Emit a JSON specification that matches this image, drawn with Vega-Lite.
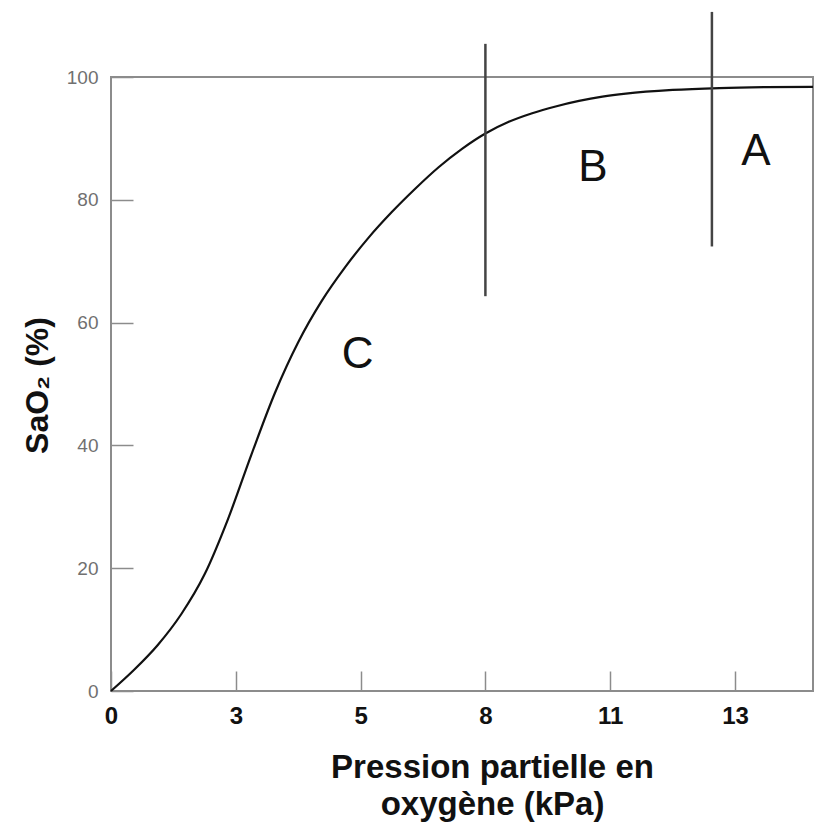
{
  "$schema": "https://vega.github.io/schema/vega-lite/v6.json",
  "width": 702,
  "height": 614,
  "autosize": {"type": "none"},
  "padding": {"left": 111, "top": 77, "right": 8, "bottom": 137},
  "background": "white",
  "config": {
    "font": "Liberation Sans",
    "view": {"stroke": "#8c8c8c", "strokeWidth": 2}
  },
  "datasets": {
    "curve": [
      {"p": 0, "s": 0},
      {"p": 0.5, "s": 3.5},
      {"p": 1.0, "s": 7.5},
      {"p": 1.5, "s": 12.5},
      {"p": 2.0, "s": 19.0},
      {"p": 2.5, "s": 28.0},
      {"p": 3.0, "s": 38.5},
      {"p": 3.5, "s": 48.5},
      {"p": 4.0, "s": 56.8},
      {"p": 4.5, "s": 63.5},
      {"p": 5.0, "s": 69.0},
      {"p": 5.5, "s": 73.8},
      {"p": 6.0, "s": 78.0},
      {"p": 6.5, "s": 81.8},
      {"p": 7.0, "s": 85.3},
      {"p": 7.5, "s": 88.3},
      {"p": 8.0, "s": 90.8},
      {"p": 8.5, "s": 92.7},
      {"p": 9.0, "s": 94.1},
      {"p": 9.5, "s": 95.2},
      {"p": 10.0, "s": 96.1},
      {"p": 10.5, "s": 96.8},
      {"p": 11.0, "s": 97.3},
      {"p": 12.0, "s": 97.9},
      {"p": 13.0, "s": 98.2},
      {"p": 14.0, "s": 98.35},
      {"p": 15.0, "s": 98.4}
    ],
    "limits": [
      {"p": 8.0, "low": 64.3, "high": 105.4},
      {"p": 12.84, "low": 72.4, "high": 110.6}
    ],
    "zones": [
      {"p": 5.27, "s": 54.7, "zone": "C"},
      {"p": 10.3, "s": 85.2, "zone": "B"},
      {"p": 13.78, "s": 87.8, "zone": "A"}
    ]
  },
  "encoding": {
    "x": {
      "field": "p",
      "type": "quantitative",
      "scale": {"domain": [0, 15], "nice": false, "zero": false},
      "axis": {
        "title": ["Pression partielle en", "oxygène (kPa)"],
        "values": [0, 2.6667, 5.3333, 8, 10.6667, 13.3333],
        "labelExpr": "format(round(datum.value), 'd')",
        "domain": false,
        "grid": false,
        "tickSize": -20,
        "tickColor": "#8c8c8c",
        "tickWidth": 1.5,
        "labelFont": "Liberation Sans",
        "labelFontSize": 24,
        "labelFontWeight": "bold",
        "labelColor": "#111111",
        "labelPadding": 33,
        "labelFlush": false,
        "titleFont": "Liberation Sans",
        "titleFontSize": 33,
        "titleFontWeight": "bold",
        "titleColor": "#111111",
        "titleLineHeight": 37,
        "titleAnchor": "start",
        "titleAlign": "center",
        "titleBaseline": "top",
        "titleX": 381,
        "titleY": 60
      }
    },
    "y": {
      "type": "quantitative",
      "scale": {"domain": [0, 100], "nice": false},
      "axis": {
        "title": "SaO₂ (%)",
        "values": [0, 20, 40, 60, 80, 100],
        "domain": false,
        "grid": false,
        "tickSize": -22,
        "tickColor": "#8c8c8c",
        "tickWidth": 1.5,
        "labelFont": "Liberation Sans",
        "labelFontSize": 19,
        "labelColor": "#707070",
        "labelPadding": 35,
        "labelFlush": false,
        "titleFont": "Liberation Sans",
        "titleFontSize": 32,
        "titleFontWeight": "bold",
        "titleColor": "#111111",
        "titleAngle": -90,
        "titleAlign": "center",
        "titleBaseline": "middle",
        "titleX": -74,
        "titleY": 308
      }
    }
  },
  "layer": [
    {
      "data": {"name": "curve"},
      "mark": {"type": "line", "color": "#111111", "strokeWidth": 2.2, "interpolate": "monotone"},
      "encoding": {
        "y": {"field": "s", "type": "quantitative"}
      }
    },
    {
      "data": {"name": "limits"},
      "mark": {"type": "rule", "color": "#444444", "strokeWidth": 2.5},
      "encoding": {
        "y": {"field": "low", "type": "quantitative"},
        "y2": {"field": "high"}
      }
    },
    {
      "data": {"name": "zones"},
      "mark": {"type": "text", "fontSize": 44, "font": "Liberation Sans", "color": "#111111", "align": "center", "baseline": "middle"},
      "encoding": {
        "y": {"field": "s", "type": "quantitative"},
        "text": {"field": "zone"}
      }
    }
  ]
}
